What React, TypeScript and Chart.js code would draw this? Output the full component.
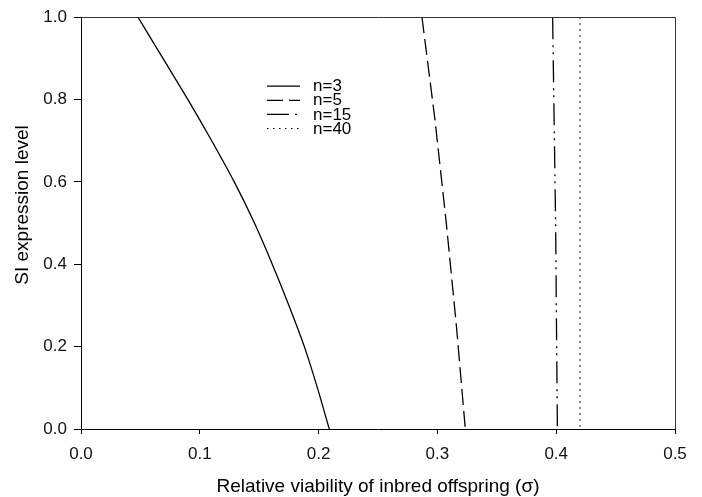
import React, { useEffect, useRef } from "react";
import { Chart, registerables } from "chart.js";
Chart.register(...registerables);

// ---- data ----
const xTickValues = [0, 0.1, 0.2, 0.3, 0.4, 0.5];
const yTickValues = [0, 0.2, 0.4, 0.6, 0.8, 1.0];
const seriesLabels = ["n=3", "n=5", "n=15", "n=40"];

const n3Sigma = [0.048, 0.069, 0.09, 0.11, 0.129, 0.146, 0.161, 0.175, 0.188, 0.199, 0.209];
const n3Level = [1.0, 0.9, 0.8, 0.7, 0.6, 0.5, 0.4, 0.3, 0.2, 0.1, 0.0];
const n5Sigma = [0.287, 0.298, 0.3075, 0.316, 0.3235];
const n5Level = [1.0, 0.75, 0.5, 0.25, 0.0];
const n15Sigma = [0.397, 0.3995, 0.401];
const n15Level = [1.0, 0.5, 0.0];
const n40Sigma = [0.42, 0.42];
const n40Level = [1.0, 0.0];

const xTitle = "Relative viability of inbred offspring (\u03c3)";
const yTitle = "SI expression level";

const FONT = "'Liberation Sans', Arial, Helvetica, sans-serif";

const zip = (xs: number[], ys: number[]) => xs.map((x, i) => ({ x, y: ys[i] }));

const dashes = [[], [16, 6], [22, 6, 2, 5, 2, 6], [1.5, 4.5]];
const widths = [1.3, 1.3, 1.3, 1.2];

const overlay = {
  id: "overlay",
  afterDraw(chart: any) {
    const { ctx, chartArea: a } = chart;
    ctx.save();
    // frame top & right
    ctx.strokeStyle = "#333";
    ctx.lineWidth = 1;
    ctx.setLineDash([]);
    ctx.beginPath();
    ctx.moveTo(a.left, Math.round(a.top) + 0.5);
    ctx.lineTo(Math.round(a.right) + 0.5, Math.round(a.top) + 0.5);
    ctx.lineTo(Math.round(a.right) + 0.5, a.bottom);
    ctx.stroke();

    // legend
    const lx0 = a.left + 186;
    const lx1 = lx0 + 33;
    const tx = a.left + 232;
    const ly0 = a.top + 69;
    const step = 14.1;
    chart.data.datasets.forEach((ds: any, i: number) => {
      const y = ly0 + i * step;
      ctx.strokeStyle = "#000";
      ctx.lineWidth = ds.borderWidth;
      ctx.setLineDash(ds.borderDash || []);
      ctx.beginPath();
      ctx.moveTo(lx0, y);
      ctx.lineTo(lx1, y);
      ctx.stroke();
      ctx.setLineDash([]);
      ctx.fillStyle = "#000";
      ctx.font = `17px ${FONT}`;
      ctx.textBaseline = "middle";
      ctx.textAlign = "left";
      ctx.fillText(ds.label, tx, y + 0.5);
    });

    // axis titles
    ctx.fillStyle = "#000";
    ctx.font = `19px ${FONT}`;
    ctx.textAlign = "center";
    ctx.textBaseline = "alphabetic";
    ctx.fillText(xTitle, (a.left + a.right) / 2, 492);
    ctx.save();
    ctx.translate(28, 205);
    ctx.rotate(-Math.PI / 2);
    ctx.fillText(yTitle, 0, 0);
    ctx.restore();
    ctx.restore();
  },
};

export default function App() {
  const ref = useRef<HTMLCanvasElement | null>(null);
  useEffect(() => {
    if (!ref.current) return;
    const seriesX = [n3Sigma, n5Sigma, n15Sigma, n40Sigma];
    const seriesY = [n3Level, n5Level, n15Level, n40Level];
    const chart = new Chart(ref.current, {
      type: "scatter",
      data: {
        datasets: seriesLabels.map((label, i) => ({
          label,
          data: zip(seriesX[i], seriesY[i]),
          showLine: true,
          borderColor: "#000",
          backgroundColor: "#000",
          borderWidth: widths[i],
          borderDash: dashes[i],
          pointRadius: 0,
          tension: i === 0 ? 0.3 : 0,
          fill: false,
        })),
      },
      options: {
        animation: false,
        responsive: false,
        devicePixelRatio: 1,
        layout: { padding: { left: 0, right: 27, top: 12, bottom: 0 } },
        plugins: { legend: { display: false }, tooltip: { enabled: false } },
        scales: {
          x: {
            type: "linear",
            min: 0,
            max: 0.5,
            afterFit: (s: any) => {
              s.height = 68;
            },
            afterBuildTicks: (s: any) => {
              s.ticks = xTickValues.map((v) => ({ value: v }));
            },
            ticks: {
              color: "#111",
              font: { family: FONT, size: 17 },
              padding: 10,
              callback: (v: any) => Number(v).toFixed(1),
              maxRotation: 0,
            },
            grid: { drawOnChartArea: false, drawTicks: true, tickLength: 5, color: "#000" },
            border: { display: true, color: "#000", width: 1 },
          },
          y: {
            type: "linear",
            min: 0,
            max: 1,
            afterFit: (s: any) => {
              s.width = 81;
            },
            afterBuildTicks: (s: any) => {
              s.ticks = yTickValues.map((v) => ({ value: v }));
            },
            ticks: {
              color: "#111",
              font: { family: FONT, size: 17 },
              padding: 7,
              callback: (v: any) => Number(v).toFixed(1),
            },
            grid: { drawOnChartArea: false, drawTicks: true, tickLength: 7, color: "#000" },
            border: { display: true, color: "#000", width: 1 },
          },
        },
      },
      plugins: [overlay],
    });
    return () => chart.destroy();
  }, []);
  return (
    <div style={{ position: "fixed", left: 0, top: 0, width: 702, height: 497, background: "#fff" }}>
      <canvas ref={ref} width={702} height={497} style={{ display: "block" }} />
    </div>
  );
}
